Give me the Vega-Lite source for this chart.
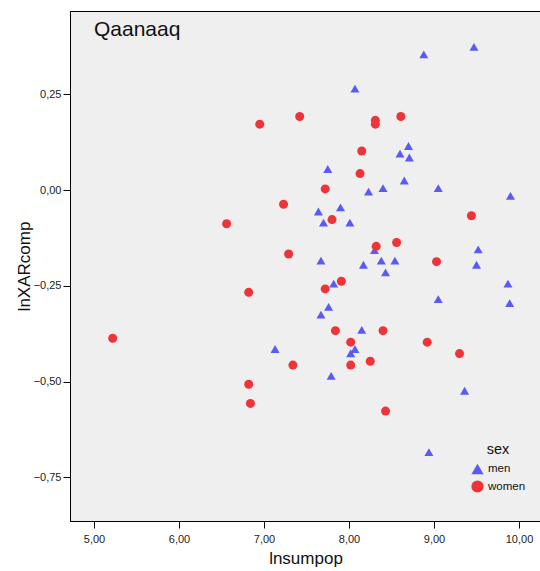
{
  "$schema": "https://vega.github.io/schema/vega-lite/v6.json",
  "width": 471,
  "height": 510,
  "autosize": {"type": "none"},
  "padding": {"left": 70, "top": 11, "right": 0, "bottom": 50},
  "background": "white",
  "view": {"fill": "#efefef", "stroke": "black", "strokeWidth": 1},
  "title": {
    "text": "Qaanaaq",
    "anchor": "start",
    "frame": "group",
    "orient": "top",
    "offset": -46,
    "baseline": "alphabetic",
    "dx": 24,
    "font": "Liberation Sans",
    "fontSize": 21,
    "fontWeight": "normal",
    "color": "#111"
  },
  "config": {
    "view": {"fill": "#efefef", "stroke": "black", "strokeWidth": 1},
    "font": "Liberation Sans",
    "axis": {
      "domainColor": "black",
      "domainWidth": 1,
      "tickColor": "black",
      "tickWidth": 1,
      "tickSize": 7,
      "labelFont": "Liberation Sans",
      "labelFontSize": 11,
      "labelColor": "#222",
      "titleFont": "Liberation Sans",
      "titleFontSize": 17,
      "titleFontWeight": "normal",
      "titleColor": "#111",
      "grid": false
    }
  },
  "data": {
    "values": [
      {"x": 8.88, "y": 0.354, "sex": "men"},
      {"x": 9.47, "y": 0.374, "sex": "men"},
      {"x": 8.07, "y": 0.265, "sex": "men"},
      {"x": 8.70, "y": 0.115, "sex": "men"},
      {"x": 8.60, "y": 0.095, "sex": "men"},
      {"x": 8.71, "y": 0.085, "sex": "men"},
      {"x": 7.75, "y": 0.055, "sex": "men"},
      {"x": 8.65, "y": 0.025, "sex": "men"},
      {"x": 8.23, "y": -0.004, "sex": "men"},
      {"x": 8.40, "y": 0.005, "sex": "men"},
      {"x": 9.05, "y": 0.005, "sex": "men"},
      {"x": 9.90, "y": -0.015, "sex": "men"},
      {"x": 7.64, "y": -0.056, "sex": "men"},
      {"x": 7.90, "y": -0.045, "sex": "men"},
      {"x": 7.70, "y": -0.085, "sex": "men"},
      {"x": 8.01, "y": -0.085, "sex": "men"},
      {"x": 8.30, "y": -0.157, "sex": "men"},
      {"x": 9.52, "y": -0.155, "sex": "men"},
      {"x": 7.67, "y": -0.184, "sex": "men"},
      {"x": 8.17, "y": -0.195, "sex": "men"},
      {"x": 8.38, "y": -0.184, "sex": "men"},
      {"x": 8.54, "y": -0.184, "sex": "men"},
      {"x": 9.50, "y": -0.195, "sex": "men"},
      {"x": 8.43, "y": -0.215, "sex": "men"},
      {"x": 7.82, "y": -0.244, "sex": "men"},
      {"x": 9.87, "y": -0.244, "sex": "men"},
      {"x": 9.05, "y": -0.285, "sex": "men"},
      {"x": 9.89, "y": -0.295, "sex": "men"},
      {"x": 7.76, "y": -0.305, "sex": "men"},
      {"x": 7.67, "y": -0.325, "sex": "men"},
      {"x": 8.15, "y": -0.365, "sex": "men"},
      {"x": 7.13, "y": -0.415, "sex": "men"},
      {"x": 8.07, "y": -0.415, "sex": "men"},
      {"x": 8.02, "y": -0.426, "sex": "men"},
      {"x": 7.79, "y": -0.485, "sex": "men"},
      {"x": 9.36, "y": -0.524, "sex": "men"},
      {"x": 8.94, "y": -0.684, "sex": "men"},
      {"x": 6.95, "y": 0.172, "sex": "women"},
      {"x": 7.42, "y": 0.192, "sex": "women"},
      {"x": 8.31, "y": 0.182, "sex": "women"},
      {"x": 8.31, "y": 0.172, "sex": "women"},
      {"x": 8.61, "y": 0.192, "sex": "women"},
      {"x": 8.15, "y": 0.102, "sex": "women"},
      {"x": 8.13, "y": 0.043, "sex": "women"},
      {"x": 7.72, "y": 0.003, "sex": "women"},
      {"x": 7.23, "y": -0.037, "sex": "women"},
      {"x": 6.56, "y": -0.088, "sex": "women"},
      {"x": 7.80, "y": -0.077, "sex": "women"},
      {"x": 9.44, "y": -0.067, "sex": "women"},
      {"x": 8.32, "y": -0.147, "sex": "women"},
      {"x": 8.56, "y": -0.137, "sex": "women"},
      {"x": 7.29, "y": -0.167, "sex": "women"},
      {"x": 9.03, "y": -0.187, "sex": "women"},
      {"x": 7.91, "y": -0.238, "sex": "women"},
      {"x": 7.72, "y": -0.258, "sex": "women"},
      {"x": 6.82, "y": -0.267, "sex": "women"},
      {"x": 7.84, "y": -0.367, "sex": "women"},
      {"x": 8.40, "y": -0.367, "sex": "women"},
      {"x": 8.02, "y": -0.397, "sex": "women"},
      {"x": 8.92, "y": -0.397, "sex": "women"},
      {"x": 9.30, "y": -0.427, "sex": "women"},
      {"x": 7.34, "y": -0.457, "sex": "women"},
      {"x": 8.02, "y": -0.457, "sex": "women"},
      {"x": 8.25, "y": -0.447, "sex": "women"},
      {"x": 6.82, "y": -0.507, "sex": "women"},
      {"x": 6.84, "y": -0.557, "sex": "women"},
      {"x": 8.43, "y": -0.577, "sex": "women"},
      {"x": 5.22, "y": -0.387, "sex": "women"}
    ]
  },
  "mark": {"type": "point", "filled": true, "opacity": 1, "size": 81, "strokeWidth": 0},
  "encoding": {
    "x": {
      "field": "x",
      "type": "quantitative",
      "title": "lnsumpop",
      "scale": {"domain": [4.7176, 10.2588], "nice": false, "zero": false},
      "axis": {
        "values": [5, 6, 7, 8, 9, 10],
        "labelExpr": "replace(format(datum.value, '.2f'), '.', ',')",
        "labelPadding": 5,
        "titleY": 42,
        "titleBaseline": "alphabetic"
      }
    },
    "y": {
      "field": "y",
      "type": "quantitative",
      "title": "lnXARcomp",
      "scale": {"domain": [-0.864, 0.4675], "nice": false, "zero": false},
      "axis": {
        "values": [0.25, 0, -0.25, -0.5, -0.75],
        "labelExpr": "replace(format(datum.value, '.2f'), '.', ',')",
        "labelPadding": 2,
        "titleX": -41,
        "titleY": 255,
        "titleBaseline": "alphabetic",
        "titleAngle": -90,
        "titleAlign": "center"
      }
    },
    "color": {
      "field": "sex",
      "type": "nominal",
      "title": "sex",
      "scale": {"domain": ["men", "women"], "range": ["#5a5af7", "#ee3339"]},
      "legend": {
        "orient": "none",
        "legendX": 401,
        "legendY": 432,
        "padding": 0,
        "titleFont": "Liberation Sans",
        "titleFontSize": 14.5,
        "titleFontWeight": "normal",
        "titleColor": "#111",
        "titleAnchor": "middle",
        "titlePadding": 5,
        "labelFont": "Liberation Sans",
        "labelFontSize": 11.5,
        "labelColor": "#111",
        "symbolSize": 150,
        "symbolStrokeWidth": 0,
        "rowPadding": 5.5,
        "labelOffset": 4
      }
    },
    "shape": {
      "field": "sex",
      "type": "nominal",
      "title": "sex",
      "scale": {"domain": ["men", "women"], "range": ["triangle-up", "circle"]}
    }
  }
}
